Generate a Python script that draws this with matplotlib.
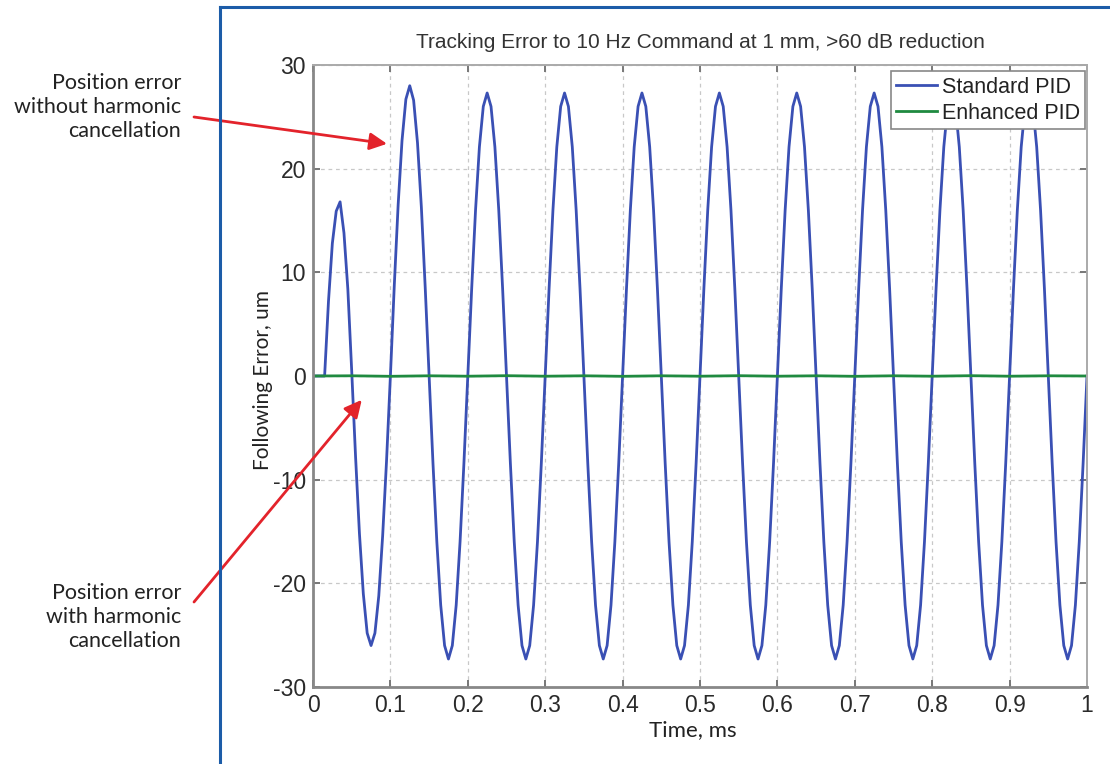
import matplotlib
matplotlib.use("Agg")
import matplotlib.pyplot as plt
import numpy as np
from matplotlib.lines import Line2D

plt.rcParams["font.family"] = ["Liberation Sans", "DejaVu Sans"]
plt.rcParams["axes.unicode_minus"] = False

# following error of the standard PID loop, um, sampled every 0.005 ms
t_std = np.linspace(0, 1, 201)
err_std = [
    0.0, 0.0, 0.0, 0.0, 7.2, 12.8, 15.9, 16.8, 13.8, 8.4,
    0.5, -7.8, -15.2, -21.0, -24.8, -26.0, -24.8, -21.2, -15.4, -8.2,
    0.0, 8.7, 16.5, 22.7, 26.7, 28.0, 26.6, 22.5, 16.3, 8.5,
    0.0, -8.4, -16.0, -22.1, -26.0, -27.3, -26.0, -22.1, -16.0, -8.4,
    0.0, 8.4, 16.0, 22.1, 26.0, 27.3, 26.0, 22.1, 16.0, 8.4,
    0.0, -8.4, -16.0, -22.1, -26.0, -27.3, -26.0, -22.1, -16.0, -8.4,
    0.0, 8.4, 16.0, 22.1, 26.0, 27.3, 26.0, 22.1, 16.0, 8.4,
    0.0, -8.4, -16.0, -22.1, -26.0, -27.3, -26.0, -22.1, -16.0, -8.4,
    0.0, 8.4, 16.0, 22.1, 26.0, 27.3, 26.0, 22.1, 16.0, 8.4,
    0.0, -8.4, -16.0, -22.1, -26.0, -27.3, -26.0, -22.1, -16.0, -8.4,
    0.0, 8.4, 16.0, 22.1, 26.0, 27.3, 26.0, 22.1, 16.0, 8.4,
    0.0, -8.4, -16.0, -22.1, -26.0, -27.3, -26.0, -22.1, -16.0, -8.4,
    0.0, 8.4, 16.0, 22.1, 26.0, 27.3, 26.0, 22.1, 16.0, 8.4,
    0.0, -8.4, -16.0, -22.1, -26.0, -27.3, -26.0, -22.1, -16.0, -8.4,
    0.0, 8.4, 16.0, 22.1, 26.0, 27.3, 26.0, 22.1, 16.0, 8.4,
    0.0, -8.4, -16.0, -22.1, -26.0, -27.3, -26.0, -22.1, -16.0, -8.4,
    0.0, 8.4, 16.0, 22.1, 26.0, 27.3, 26.0, 22.1, 16.0, 8.4,
    0.0, -8.4, -16.0, -22.1, -26.0, -27.3, -26.0, -22.1, -16.0, -8.4,
    0.0, 8.4, 16.0, 22.1, 26.0, 27.3, 26.0, 22.1, 16.0, 8.4,
    0.0, -8.4, -16.0, -22.1, -26.0, -27.3, -26.0, -22.1, -16.0, -8.4,
    0.0,
]

# enhanced PID (harmonic cancellation), sampled every 0.05 ms
t_enh = np.linspace(0, 1, 21)
err_enh = [0.0, 0.02, -0.03, 0.02, -0.02, 0.03, -0.02, 0.02, -0.03, 0.02, -0.02,
           0.03, -0.02, 0.02, -0.03, 0.02, -0.02, 0.03, -0.02, 0.02, 0.0]

xticks = [0, 0.1, 0.2, 0.3, 0.4, 0.5, 0.6, 0.7, 0.8, 0.9, 1]
xticklabels = ["0", "0.1", "0.2", "0.3", "0.4", "0.5", "0.6", "0.7", "0.8", "0.9", "1"]
yticks = [-30, -20, -10, 0, 10, 20, 30]

W, H = 1110, 764
fig = plt.figure(figsize=(W / 100, H / 100), dpi=100)
ax = fig.add_axes([313 / W, 1 - 687 / H, 774 / W, 622 / H])

ax.plot(t_std, err_std, color="#3a50b4", lw=2.0, solid_joinstyle="round",
        label="Standard PID")
ax.plot(t_enh, err_enh, color="#1f8a40", lw=2.0, label="Enhanced PID")

ax.set_xlim(0, 1)
ax.set_ylim(-30, 30)
ax.set_xticks(xticks)
ax.set_xticklabels(xticklabels)
ax.set_yticks(yticks)
ax.grid(True, linestyle=(0, (3, 3)), color="#c8c8c8", lw=0.9)
ax.tick_params(direction="in", top=True, right=True, length=5, width=1.4,
               color="#777777", labelsize=16.5, labelcolor="#2a2a2a", pad=5)
for side in ["left", "bottom"]:
    ax.spines[side].set_color("#888888")
    ax.spines[side].set_linewidth(2.0)
for side in ["top", "right"]:
    ax.spines[side].set_color("#aaaaaa")
    ax.spines[side].set_linewidth(1.4)

ax.set_title("Tracking Error to 10 Hz Command at 1 mm, >60 dB reduction",
             fontsize=15, color="#333333", pad=12)

leg = ax.legend(loc="upper right", bbox_to_anchor=(0.9975, 0.99), fancybox=False,
                framealpha=1, edgecolor="#888888", handlelength=1.9,
                handletextpad=0.2, borderpad=0.25, labelspacing=0.25,
                borderaxespad=0, prop={"size": 15.5})
leg.get_frame().set_linewidth(1.2)
for txt in leg.get_texts():
    txt.set_color("#222222")

fig.text(263 / W, 1 - 380 / H, "Following Error, um", rotation=90,
         ha="center", va="center", family="Lato", fontsize=15, color="#222222")
fig.text(693 / W, 1 - 730 / H, "Time, ms", ha="center", va="center",
         family="Lato", fontsize=16, color="#222222")

# call-out labels and red arrows
fig.text(181 / W, 1 - 107 / H, "Position error\nwithout harmonic\ncancellation",
         ha="right", va="center", family="Lato", fontsize=15.5, color="#222222",
         linespacing=1.25)
fig.text(181 / W, 1 - 617 / H, "Position error\nwith harmonic\ncancellation",
         ha="right", va="center", family="Lato", fontsize=15.5, color="#222222",
         linespacing=1.25)
arrow = dict(arrowstyle="-|>", color="#e3232b", lw=2, mutation_scale=26,
             shrinkA=0, shrinkB=0)
ax.annotate("", xy=(0.0956, 22.4), xycoords="data",
            xytext=(194 / W, 1 - 117 / H), textcoords="figure fraction",
            arrowprops=arrow, annotation_clip=False)
ax.annotate("", xy=(0.063, -2.3), xycoords="data",
            xytext=(194 / W, 1 - 602 / H), textcoords="figure fraction",
            arrowprops=arrow, annotation_clip=False)

# blue frame around the figure panel
fig.add_artist(Line2D([220 / W, 220 / W], [0, 1 - 7 / H], color="#1c5ca8", lw=2.2))
fig.add_artist(Line2D([220 / W, 1], [1 - 7 / H, 1 - 7 / H], color="#1c5ca8", lw=2.2))

fig.savefig("out.png", dpi=100)
